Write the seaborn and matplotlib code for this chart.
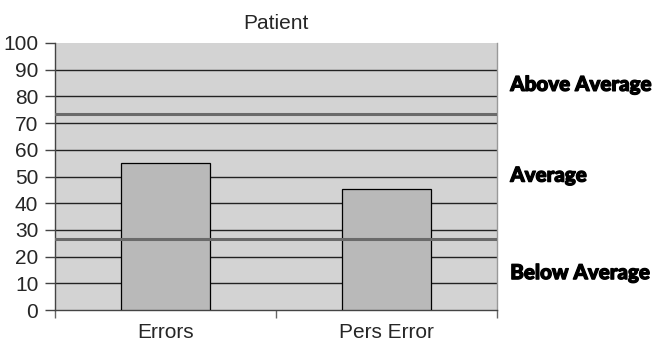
import matplotlib
matplotlib.use("Agg")
import matplotlib.pyplot as plt
import matplotlib.patheffects as pe
import seaborn as sns
import pandas as pd

categories = ["Errors", "Pers Error"]
scores = [55, 45.5]
band_limits = [26.5, 73.5]
band_labels = ["Above Average", "Average", "Below Average"]
band_label_y = [84.5, 50.5, 14]
y_ticks = list(range(0, 101, 10))

sns.set_theme(style="white")
plt.rcParams["font.family"] = ["Liberation Sans", "DejaVu Sans"]

df = pd.DataFrame({"test": categories, "score": scores})

fig = plt.figure(figsize=(6.53, 3.52), dpi=100)
ax = fig.add_axes([55 / 653, 42 / 352, (497 - 55) / 653, (310 - 43) / 352])
ax.set_facecolor("#d3d3d3")

sns.barplot(data=df, x="test", y="score", color="#b9b9b9", width=0.4,
            edgecolor="black", linewidth=0.9, saturation=1, ax=ax, zorder=3)

ax.set_ylim(0, 100)
ax.set_xlim(-0.5, 1.5)
ax.set_yticks(y_ticks)
ax.set_yticklabels([str(t) for t in y_ticks], fontsize=15)
ax.tick_params(axis="y", length=7, width=1, color="#444444", pad=5, left=True)
ax.tick_params(axis="x", which="major", length=0, pad=9, labelsize=15)
ax.set_xticks([-0.5, 0.5, 1.5], minor=True)
ax.tick_params(axis="x", which="minor", length=6, width=1, color="#666666", bottom=True)
ax.set_xlabel("")
ax.set_ylabel("")

ax.yaxis.grid(True, color="#222222", linewidth=1.0, zorder=1)
ax.set_axisbelow(True)
ax.yaxis.get_gridlines()[-1].set_visible(False)
ax.yaxis.get_gridlines()[0].set_visible(False)

for y in band_limits:
    ax.axhline(y, color="#6a6a6a", linewidth=2.2, zorder=4)

for side in ["left", "bottom"]:
    ax.spines[side].set_color("#444444")
    ax.spines[side].set_linewidth(1.0)
ax.spines["top"].set_visible(False)
ax.spines["right"].set_color("#999999")
ax.spines["right"].set_linewidth(1.0)

ax.set_title("Patient", fontsize=15, pad=10)

# Band labels in a heavy face; size them so the longest one fits
# in the margin right of the axes.
label_family = ["Lato", "DejaVu Sans"]
band_texts = []
for label, y in zip(band_labels, band_label_y):
    t = ax.text(1.03, y / 100, label, transform=ax.transAxes, ha="left", va="center",
                fontsize=20, fontweight="black", family=label_family, color="black",
                path_effects=[pe.withStroke(linewidth=0.9, foreground="black")])
    band_texts.append(t)

fig.canvas.draw()
renderer = fig.canvas.get_renderer()
widest = max(t.get_window_extent(renderer).width for t in band_texts)
size = min(20, 20 * 141 / widest)
for t in band_texts:
    t.set_fontsize(size)

fig.savefig("out.png", dpi=100)
